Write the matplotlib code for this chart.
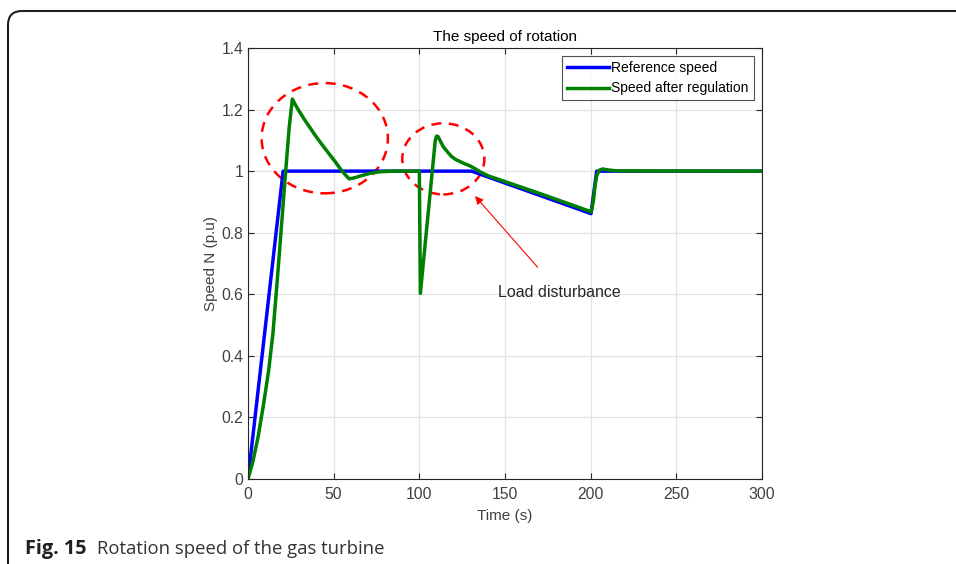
import matplotlib
matplotlib.use("Agg")
import matplotlib.pyplot as plt
from matplotlib.patches import Ellipse, FancyBboxPatch

# reference speed (p.u) against time (s)
ref_t = [0, 20.5, 130.5, 200.2, 203.5, 300]
ref_n = [0, 1.0, 1.0, 0.862, 1.0, 1.0]

# speed after regulation
reg_t = [0, 3, 6, 9, 12, 14.5, 17, 19.5, 22, 24, 25.9,
         28, 30.4, 33, 36.2, 39, 42, 45, 47.9, 51, 53.7, 56.5, 59, 62, 65.4, 71.2, 77, 85,
         100.0, 100.6, 109.3, 110.1, 111, 112.5, 114, 116.5, 118.9, 121.5, 123.8, 126.5,
         129.6, 132.5, 135.4, 140, 170, 200.3,
         201.5, 202.5, 203.5, 205, 207, 210, 215, 300]
reg_n = [0, 0.06, 0.14, 0.24, 0.35, 0.47, 0.64, 0.82, 1.0, 1.14, 1.234,
         1.212, 1.19, 1.167, 1.141, 1.118, 1.095, 1.073, 1.052, 1.03, 1.009, 0.99, 0.975, 0.978,
         0.984, 0.993, 0.998, 1.0,
         1.0, 0.603, 1.10, 1.114, 1.112, 1.095, 1.079, 1.062, 1.047, 1.037, 1.031, 1.024,
         1.017, 1.008, 0.998, 0.985, 0.928, 0.868,
         0.9, 0.95, 0.985, 1.003, 1.007, 1.004, 1.001, 1.0]

# dashed circles (centre t, centre N, width, height)
circles = [(44.8, 1.107, 73.7, 0.358), (114.0, 1.04, 47.9, 0.231)]

plt.rcParams["font.family"] = ["Liberation Sans", "DejaVu Sans"]

fig = plt.figure(figsize=(9.56, 5.64), dpi=100)

# page frame with rounded corner (pixel coordinates)
bg = fig.add_axes([0, 0, 1, 1])
bg.set_xlim(0, 956)
bg.set_ylim(564, 0)
bg.axis("off")
frame = FancyBboxPatch((8, 11), 1100, 700, boxstyle="round,pad=0,rounding_size=14",
                       fill=False, ec="#231f20", lw=1.5)
bg.add_patch(frame)
bg.text(25, 549, "Fig. 15", fontsize=14.3, fontweight="bold", color="#231f20",
        family=["Open Sans", "DejaVu Sans"], va="center", ha="left")
bg.text(97, 549, "Rotation speed of the gas turbine", fontsize=13.3, color="#333333",
        family=["Open Sans", "DejaVu Sans"], va="center", ha="left")

ax = fig.add_axes([248 / 956, 1 - 479 / 564, 514 / 956, 431 / 564])
ax.plot(ref_t, ref_n, color="#0000ff", lw=2.5, label="Reference speed")
ax.plot(reg_t, reg_n, color="#008000", lw=2.5, label="Speed after regulation")

for cx, cy, w, h in circles:
    ax.add_patch(Ellipse((cx, cy), w, h, fill=False, ec="red", lw=1.8,
                         linestyle=(0, (4, 3))))

ax.annotate("Load disturbance", xy=(132.5, 0.919), xytext=(146, 0.607),
            fontsize=11.5, color="#262626", va="center", ha="left",
            arrowprops=dict(arrowstyle="-|>", color="red", lw=0.8,
                            mutation_scale=12, shrinkA=14, shrinkB=0))

ax.set_xlim(0, 300)
ax.set_ylim(0, 1.4)
ax.set_xticks(range(0, 301, 50))
ax.set_yticks([0, 0.2, 0.4, 0.6, 0.8, 1, 1.2, 1.4])
ax.set_yticklabels(["0", "0.2", "0.4", "0.6", "0.8", "1", "1.2", "1.4"])
ax.grid(True, color="#e3e3e3", lw=0.9)
ax.set_axisbelow(True)
ax.tick_params(direction="in", top=True, right=True, labelsize=11.3,
               colors="#262626", labelcolor="#404040", length=4, width=0.8)
ax.tick_params(axis="x", pad=6)
for s in ax.spines.values():
    s.set_color("#262626")
    s.set_linewidth(0.8)

ax.set_title("The speed of rotation", fontsize=11, color="black", pad=5)
ax.set_xlabel("Time (s)", fontsize=11, color="#404040", labelpad=5)
ax.set_ylabel("Speed N (p.u)", fontsize=11, color="#404040", labelpad=2)

leg = ax.legend(loc="upper right", fontsize=10, frameon=True, fancybox=False,
                borderpad=0.35, handlelength=3.0, handletextpad=0.2,
                labelspacing=0.45, borderaxespad=0.6)
leg.get_frame().set_edgecolor("#262626")
leg.get_frame().set_linewidth(0.8)

fig.savefig("out.png", dpi=100)
